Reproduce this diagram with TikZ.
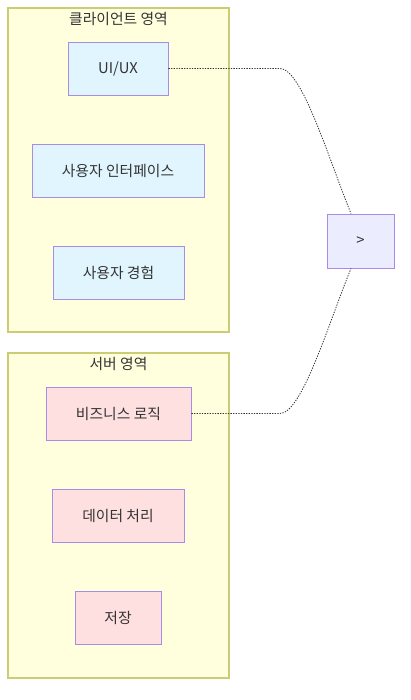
\documentclass[tikz,border=0pt]{standalone}
\usepackage{fontspec}
\setmainfont{Noto Sans CJK KR}
\usepackage{tikz}
\usetikzlibrary{positioning,calc}
\definecolor{clusterfill}{HTML}{FFFFDE}
\definecolor{clusterline}{HTML}{CCCC77}
\definecolor{nodeline}{HTML}{A98BE8}
\definecolor{clientfill}{HTML}{E1F5FE}
\definecolor{serverfill}{HTML}{FFE0E0}
\definecolor{midfill}{HTML}{ECECFF}
\definecolor{textgray}{HTML}{333333}

\begin{document}
\begin{tikzpicture}[x=1pt, y=-1pt, every node/.style={font=\fontsize{14.8}{17}\selectfont, text=textgray}]
    \tikzset{
        cluster/.style={draw=clusterline, line width=1.2pt, fill=clusterfill},
        clientbox/.style={draw=nodeline, line width=0.9pt, fill=clientfill, minimum height=53pt, inner sep=0pt},
        serverbox/.style={draw=nodeline, line width=0.9pt, fill=serverfill, minimum height=53pt, inner sep=0pt},
        link/.style={textgray, line width=0.8pt, dash pattern=on 1.3pt off 1.3pt}
    }
    \useasboundingbox[fill=white] (0,0) rectangle (410,700);

    % client area
    \draw[cluster] (8,8) rectangle (229,332);
    \node (clienttitle) at (118.5,19) {클라이언트 영역};
    \node[clientbox, minimum width=100pt] (uiux) at (118,68.5) {UI/UX};
    \node[clientbox, minimum width=172pt] (ui) at (118,170.5) {사용자 인터페이스};
    \node[clientbox, minimum width=131pt] (ux) at (118.5,272.5) {사용자 경험};

    % server area
    \draw[cluster] (8,353) rectangle (229,678);
    \node (servertitle) at (118.5,364) {서버 영역};
    \node[serverbox, minimum width=145pt] (logic) at (118.5,413.5) {비즈니스 로직};
    \node[serverbox, minimum width=132pt] (data) at (118,515.5) {데이터 처리};
    \node[serverbox, minimum width=86pt] (store) at (118,617.5) {저장};

    % middle node
    \node[draw=nodeline, line width=0.9pt, fill=midfill, minimum width=67pt, minimum height=54pt, inner sep=0pt] (gt) at (360.5,241) {>};

    \draw[link] (uiux.east) -- (280,68.5) .. controls (302,68.5) and (329,160) .. ($(gt.north west)!0.36!(gt.north east)$);
    \draw[link] (logic.east) -- (280,413.5) .. controls (302,413.5) and (329,322) .. ($(gt.south west)!0.36!(gt.south east)$);
\end{tikzpicture}
\end{document}
